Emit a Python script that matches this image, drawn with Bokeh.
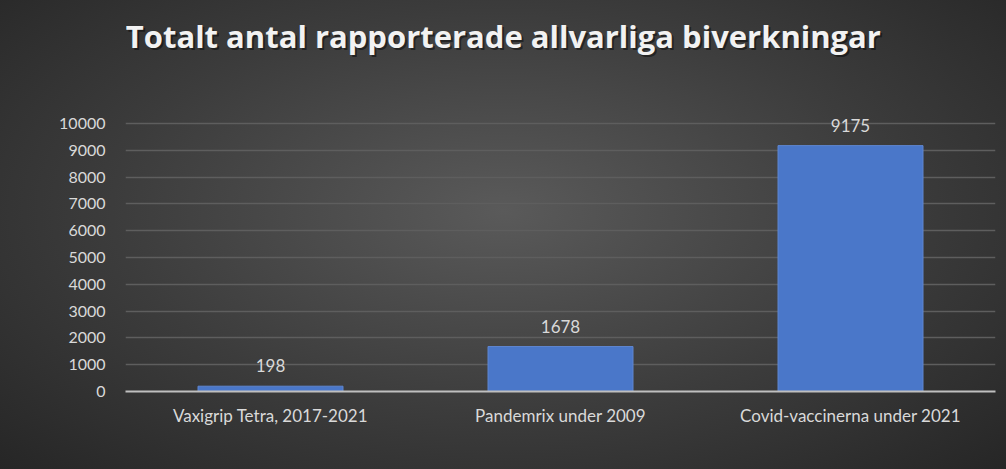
from bokeh.plotting import figure
from bokeh.models import ColumnDataSource, LabelSet, Label, FixedTicker, Range1d, FactorRange
from bokeh.core.properties import value
from bokeh.embed import file_html
from bokeh.resources import INLINE

categories = ["Vaxigrip Tetra, 2017-2021", "Pandemrix under 2009", "Covid-vaccinerna under 2021"]
values = [198, 1678, 9175]
labels = [str(v) for v in values]
y_ticks = [0, 1000, 2000, 3000, 4000, 5000, 6000, 7000, 8000, 9000, 10000]
title_text = "Totalt antal rapporterade allvarliga biverkningar"

source = ColumnDataSource(data=dict(cat=categories, val=values, lab=labels))

# frame reaches the top of the canvas so the title can live inside it
Y_TOP = 14590
p = figure(
    x_range=FactorRange(*categories),
    y_range=Range1d(0, Y_TOP),
    width=1006, height=469,
    output_backend="svg", toolbar_location=None,
    min_border_left=125, min_border_right=11,
    min_border_top=0, min_border_bottom=78,
)
p.styles = {"background": "radial-gradient(ellipse at 50% 45%, #5a5a5a 0%, #3c3c3c 55%, #262626 100%)"}
p.background_fill_color = None
p.border_fill_color = None
p.outline_line_color = None

try:
    from bokeh.models import GlobalInlineStyleSheet
    p.stylesheets = [GlobalInlineStyleSheet(css="body{background:#282828;}")]
except Exception:
    pass

p.vbar(x="cat", top="val", width=0.5, source=source,
       fill_color="#4a77c9", line_color="#5f86cf", line_width=1)

p.add_layout(LabelSet(x="cat", y="val", text="lab", source=source,
                      text_align="center", text_baseline="bottom", y_offset=14,
                      text_font=value("Lato"), text_font_size=value("17px"),
                      text_color=value("#d9d9d9")))

# title with drop shadow
p.add_layout(Label(x=1.303, y=13270, text=title_text, text_align="center", text_baseline="middle",
                   x_offset=2, y_offset=-2,
                   text_font="Open Sans", text_font_style="bold", text_font_size="31px",
                   text_color="#000000", text_alpha=0.45))
p.add_layout(Label(x=1.303, y=13270, text=title_text, text_align="center", text_baseline="middle",
                   text_font="Open Sans", text_font_style="bold", text_font_size="31px",
                   text_color="#f2f2f2"))

p.yaxis.ticker = FixedTicker(ticks=y_ticks)
p.yaxis.axis_line_color = None
p.yaxis.major_tick_line_color = None
p.yaxis.minor_tick_line_color = None
p.yaxis.major_label_standoff = 14
p.yaxis.major_label_text_font = "Lato"
p.yaxis.major_label_text_font_size = "16px"
p.yaxis.major_label_text_color = "#d9d9d9"

p.xaxis.axis_line_color = "#bfbfbf"
p.xaxis.axis_line_width = 2
p.xaxis.major_tick_line_color = None
p.xaxis.minor_tick_line_color = None
p.xaxis.major_label_standoff = 7
p.xaxis.major_label_text_font = "Lato"
p.xaxis.major_label_text_font_size = "17px"
p.xaxis.major_label_text_color = "#d9d9d9"

p.xgrid.grid_line_color = None
p.ygrid.grid_line_color = "#5e5e5e"
p.ygrid.grid_line_width = 1.5

open("out.html", "w").write(file_html(p, INLINE))
